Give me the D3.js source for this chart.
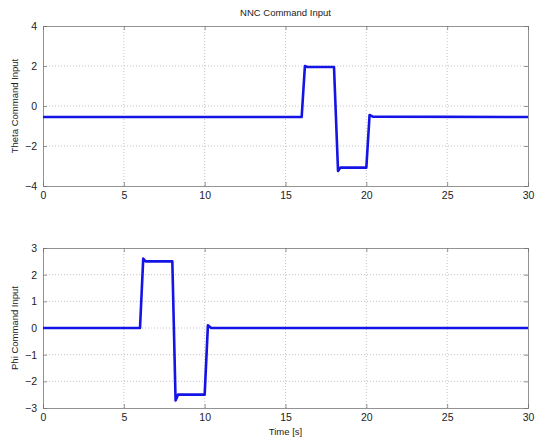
<!DOCTYPE html>
<html>
<head>
<meta charset="utf-8">
<script src="https://cdn.jsdelivr.net/npm/d3@7"></script>
<style>
  body { margin: 0; background: #fff; }
  svg { font-family: "Liberation Sans", Arial, sans-serif; }
  .grid line { stroke: #c4c4c4; stroke-dasharray: 1,2; }
</style>
</head>
<body>
<div class="chart"></div>
<script>
var svgWidth = 544;
var svgHeight = 440;

// time (s) and command values
var thetaTime = [0, 16.0, 16.2, 16.35, 18.0, 18.25, 18.4, 20.0, 20.2, 20.4, 30];
var thetaValue = [-0.55, -0.55, 2.0, 1.95, 1.95, -3.25, -3.08, -3.08, -0.45, -0.53, -0.55];

var phiTime = [0, 6.0, 6.2, 6.35, 8.0, 8.2, 8.35, 10.0, 10.2, 10.4, 12, 30];
var phiValue = [0, 0, 2.6, 2.5, 2.5, -2.72, -2.5, -2.5, 0.1, 0.0, 0.0, 0];

var xTicks = [0, 5, 10, 15, 20, 25, 30];
var thetaTicks = [-4, -2, 0, 2, 4];
var phiTicks = [-3, -2, -1, 0, 1, 2, 3];

var svg = d3.select(".chart")
  .append("svg")
  .attr("width", svgWidth)
  .attr("height", svgHeight);

var left = 43, right = 528;

var xScale = d3.scaleLinear().domain([0, 30]).range([left, right]);

function drawPanel(top, bottom, yDomain, yTicks, times, values, ylabel) {
  var yScale = d3.scaleLinear().domain(yDomain).range([bottom, top]);

  // grid
  var grid = svg.append("g").attr("class", "grid");
  grid.selectAll(".vx")
    .data(xTicks.slice(1, -1))
    .enter()
    .append("line")
    .attr("x1", d => xScale(d)).attr("x2", d => xScale(d))
    .attr("y1", top).attr("y2", bottom);
  grid.selectAll(".hy")
    .data(yTicks.slice(1, -1))
    .enter()
    .append("line")
    .attr("x1", left).attr("x2", right)
    .attr("y1", d => yScale(d)).attr("y2", d => yScale(d));

  // axes with inward ticks
  var bottomAxis = d3.axisBottom(xScale).tickValues(xTicks).tickSize(-4).tickPadding(6);
  var topAxis = d3.axisTop(xScale).tickValues(xTicks).tickSize(-4).tickFormat("");
  var leftAxis = d3.axisLeft(yScale).tickValues(yTicks).tickSize(-4).tickPadding(6)
    .tickFormat(d3.format("d"));
  var rightAxis = d3.axisRight(yScale).tickValues(yTicks).tickSize(-4).tickFormat("");

  var axes = [
    svg.append("g").attr("transform", `translate(0, ${bottom})`).call(bottomAxis),
    svg.append("g").attr("transform", `translate(0, ${top})`).call(topAxis),
    svg.append("g").attr("transform", `translate(${left}, 0)`).call(leftAxis),
    svg.append("g").attr("transform", `translate(${right}, 0)`).call(rightAxis)
  ];
  axes.forEach(function(a) {
    a.select(".domain").attr("stroke", "#777").attr("stroke-width", 0.8);
    a.selectAll(".tick line").attr("stroke", "#777").attr("stroke-width", 0.8);
    a.selectAll("text").attr("font-size", "10.5px").attr("fill", "#222")
      .attr("font-family", "Liberation Sans, Arial, sans-serif");
  });

  var line = d3.line()
    .x((d, i) => xScale(times[i]))
    .y(d => yScale(d));

  svg.append("path")
    .datum(values)
    .attr("fill", "none")
    .attr("stroke", "#1414e6")
    .attr("stroke-width", 2.6)
    .attr("stroke-linejoin", "round")
    .attr("d", line);

  svg.append("text")
    .attr("transform", `translate(18, ${(top + bottom) / 2}) rotate(-90)`)
    .attr("text-anchor", "middle")
    .attr("font-size", "9.5px")
    .attr("fill", "#222")
    .text(ylabel);
}

drawPanel(26, 186, [-4, 4], thetaTicks, thetaTime, thetaValue, "Theta Command Input");
drawPanel(248, 408, [-3, 3], phiTicks, phiTime, phiValue, "Phi Command Input");

svg.append("text")
  .attr("x", (left + right) / 2)
  .attr("y", 16)
  .attr("text-anchor", "middle")
  .attr("font-size", "9.5px")
  .attr("fill", "#222")
  .text("NNC Command Input");

svg.append("text")
  .attr("x", (left + right) / 2)
  .attr("y", 435)
  .attr("text-anchor", "middle")
  .attr("font-size", "9.5px")
  .attr("fill", "#222")
  .text("Time [s]");
</script>
</body>
</html>
